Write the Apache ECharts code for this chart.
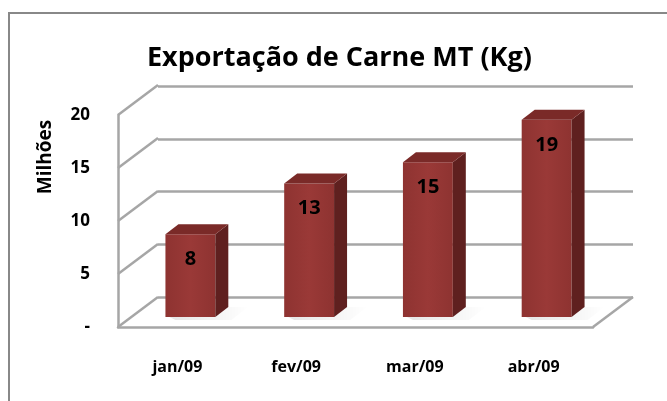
<!DOCTYPE html>
<html>
<head>
<meta charset="utf-8">
<script src="https://cdn.jsdelivr.net/npm/echarts@6/dist/echarts.min.js"></script>
<style>
  html, body { margin: 0; padding: 0; background: #fff; }
  #chart { width: 667px; height: 401px; }
</style>
</head>
<body>
<div id="chart"></div>
<script>
let $ = a => document.querySelector(a)

// dados
let months = ['jan/09', 'fev/09', 'mar/09', 'abr/09']
let valores = [7.8, 12.6, 14.6, 18.6]   // milhões de kg
let ticks = [0, 5, 10, 15, 20]

let FONT = 'Open Sans'
let LINE = '#a6a6a6'
// profundidade do "3D" (parede do fundo em relação ao plano da frente)
let DX = 40, DY = -30
// profundidade das colunas
let BX = 13, BY = -10

{
    let chart = echarts.init($('#chart'))
    chart.setOption({
        animation: false,
        textStyle: { fontFamily: FONT },
        title: {
            text: 'Exportação de Carne MT (Kg)',
            left: 142,
            top: 40,
            textStyle: { fontFamily: FONT, fontWeight: 'bold', fontSize: 27, color: '#000' }
        },
        graphic: [
            {
                type: 'rect',
                shape: { x: 9, y: 13, width: 700, height: 420 },
                style: { fill: 'none', stroke: '#888', lineWidth: 2 },
                silent: true
            },
            // titulo do eixo
            {
                type: 'text',
                x: 46, y: 157,
                rotation: Math.PI / 2,
                style: {
                    text: 'Milhões',
                    align: 'center', verticalAlign: 'middle',
                    fontFamily: FONT, fontWeight: 'bold', fontSize: 19, fill: '#000'
                },
                silent: true
            }
        ],
        grid: [
            // parede do fundo
            { left: 158, right: 34, top: 86, bottom: 104 },
            // plano da frente (eixos)
            { left: 118, right: 74, top: 115, bottom: 74 },
            // plano das colunas
            { left: 131, right: 61, top: 105, bottom: 84 }
        ],
        xAxis: [
            { gridIndex: 0, type: 'category', data: months, show: false },
            {
                gridIndex: 1, type: 'category', data: months,
                axisLine: { show: true, lineStyle: { color: LINE, width: 2.5 } },
                axisTick: { show: false },
                axisLabel: { margin: 32, fontFamily: FONT, fontWeight: 'bold', fontSize: 16, color: '#000' }
            },
            { gridIndex: 2, type: 'category', data: months, show: false }
        ],
        yAxis: [
            {
                gridIndex: 0, type: 'value', min: 0, max: 20, interval: 5,
                axisLine: { show: false }, axisTick: { show: false }, axisLabel: { show: false },
                splitLine: { show: true, lineStyle: { color: LINE, width: 2.5 } }
            },
            {
                gridIndex: 1, type: 'value', min: 0, max: 20, interval: 5,
                axisLine: { show: true, lineStyle: { color: LINE, width: 2.5 } },
                axisTick: { show: false },
                splitLine: { show: false },
                axisLabel: {
                    margin: 28, fontFamily: FONT, fontWeight: 'bold', fontSize: 17, color: '#000',
                    formatter: v => v === 0 ? '-' : v
                }
            },
            { gridIndex: 2, type: 'value', min: 0, max: 20, interval: 5, show: false }
        ],
        series: [
            // diagonais das paredes
            {
                type: 'custom',
                xAxisIndex: 1, yAxisIndex: 1,
                silent: true,
                data: ticks.map(t => [0, t]),
                renderItem: (params, api) => {
                    let cs = params.coordSys
                    let y = api.coord([0, api.value(1)])[1]
                    let kids = [{
                        type: 'line',
                        shape: { x1: cs.x, y1: y, x2: cs.x + DX, y2: y + DY },
                        style: { stroke: LINE, lineWidth: 2.5 }
                    }]
                    if (api.value(1) === 0) {
                        let xr = cs.x + cs.width
                        kids.push({
                            type: 'line',
                            shape: { x1: xr, y1: y, x2: xr + DX, y2: y + DY },
                            style: { stroke: LINE, lineWidth: 2.5 }
                        })
                    }
                    return { type: 'group', children: kids }
                }
            },
            // colunas 3D
            {
                type: 'custom',
                xAxisIndex: 2, yAxisIndex: 2,
                data: valores.map((v, i) => [i, v]),
                renderItem: (params, api) => {
                    let p = api.coord([api.value(0), api.value(1)])
                    let p0 = api.coord([api.value(0), 0])
                    let w = api.size([1, 0])[0] * 0.42
                    let x = p[0] - w / 2
                    let top = p[1], bot = p0[1]
                    return {
                        type: 'group',
                        children: [
                            // sombra no chao
                            {
                                type: 'polygon',
                                shape: { points: [[x + 4, bot], [x + w + 4, bot + BY], [x + w + BX + 20, bot + BY], [x + w + 16, bot + 3], [x + 10, bot + 3]] },
                                style: {
                                    fill: new echarts.graphic.LinearGradient(0, 0, 1, 0, [
                                        { offset: 0, color: 'rgba(0,0,0,0.10)' },
                                        { offset: 1, color: 'rgba(0,0,0,0)' }
                                    ])
                                }
                            },
                            {
                                type: 'rect',
                                shape: { x: x, y: top, width: w, height: bot - top },
                                style: {
                                    fill: new echarts.graphic.LinearGradient(0, 0, 1, 0, [
                                        { offset: 0, color: '#8e3331' },
                                        { offset: 0.5, color: '#9a3937' },
                                        { offset: 1, color: '#8e3331' }
                                    ])
                                }
                            },
                            {
                                type: 'polygon',
                                shape: { points: [[x + w, top], [x + w + BX, top + BY], [x + w + BX, bot + BY], [x + w, bot]] },
                                style: { fill: '#5f201f' }
                            },
                            {
                                type: 'polygon',
                                shape: { points: [[x, top], [x + BX, top + BY], [x + w + BX, top + BY], [x + w, top]] },
                                style: { fill: '#7a2a28' }
                            },
                            {
                                type: 'text',
                                style: {
                                    text: String(Math.round(api.value(1))),
                                    x: p[0], y: top + 25,
                                    align: 'center', verticalAlign: 'middle',
                                    fontFamily: FONT, fontWeight: 'bold', fontSize: 20, fill: '#000'
                                }
                            }
                        ]
                    }
                }
            }
        ]
    })
}
</script>
</body>
</html>
